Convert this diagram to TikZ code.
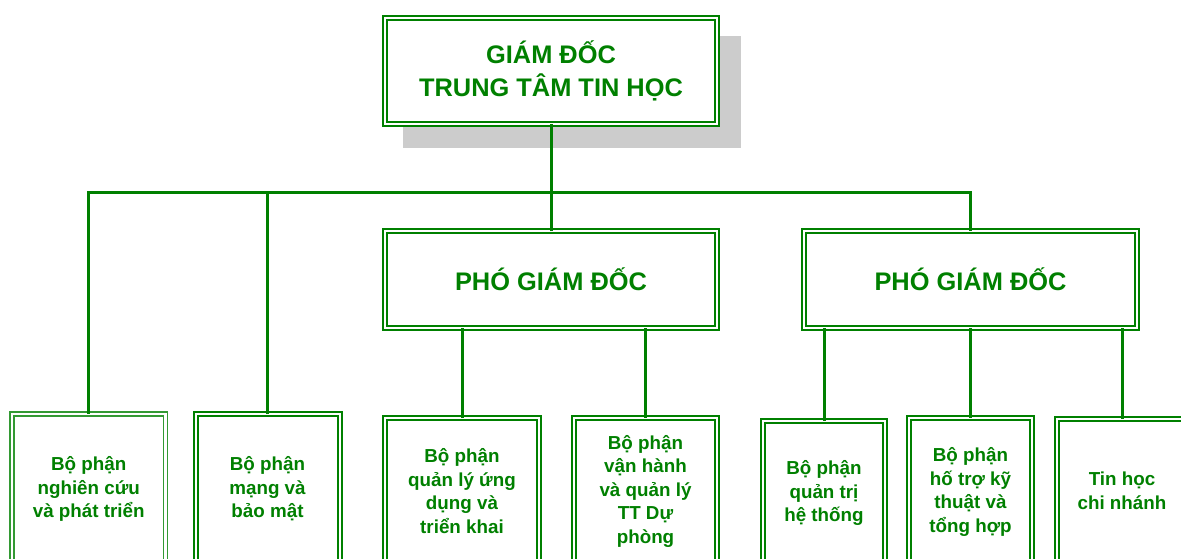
\documentclass[tikz,border=0pt]{standalone}
\usepackage{fontspec}
\setmainfont{Liberation Sans}
\definecolor{dgreen}{HTML}{008000}
\definecolor{shadowgray}{HTML}{CCCCCC}
\begin{document}
\begin{tikzpicture}[x=1pt,y=-1pt,
  frame/.style={draw=dgreen, line width=2pt, double=white, double distance=2pt,
                fill=white, inner sep=0pt, outer sep=0pt},
  thinframe/.style={frame, draw=dgreen!80, line width=1.3pt, double distance=2.7pt},
  head/.style={font=\fontsize{25.4}{33}\selectfont\bfseries, text=dgreen, align=center},
  unit/.style={font=\fontsize{18.8}{23.5}\selectfont\bfseries, text=dgreen, align=center, inner sep=0pt},
  conn/.style={draw=dgreen, line width=3pt}]
\useasboundingbox (0,0) rectangle (1181,559);
\clip (0,0) rectangle (1181,559);

% drop shadow of the director box
\fill[shadowgray] (403.25,36.25) rectangle (740.75,147.75);

% director
\node[frame, head, minimum width=332pt, minimum height=106pt] (dir) at (551,71)
  {GIÁM ĐỐC\\TRUNG TÂM TIN HỌC};

% deputy directors
\node[frame, head, minimum width=332pt, minimum height=97pt] (pgd1) at (551,279.5) {PHÓ GIÁM ĐỐC};
\node[frame, head, minimum width=333pt, minimum height=97pt] (pgd2) at (970.5,279.5) {PHÓ GIÁM ĐỐC};

% departments (frames run past the lower edge)
\node[thinframe, anchor=north, minimum width=153.5pt, minimum height=200pt] (b1) at (88.75,414) {};
\node[frame, anchor=north, minimum width=144pt, minimum height=200pt] (b2) at (267.5,414) {};
\node[frame, anchor=north, minimum width=154pt, minimum height=200pt] (b3) at (462,418) {};
\node[frame, anchor=north, minimum width=143pt, minimum height=200pt] (b4) at (645.5,418) {};
\node[frame, anchor=north, minimum width=122pt, minimum height=200pt] (b5) at (824,421) {};
\node[frame, anchor=north, minimum width=123pt, minimum height=200pt] (b6) at (970.5,418) {};
\node[frame, anchor=north, minimum width=130pt, minimum height=200pt] (b7) at (1122,419) {};

\node[unit] (t1) at (88.75,489) {Bộ phận\\nghiên cứu\\và phát triển};
\node[unit] (t2) at (267.5,489) {Bộ phận\\mạng và\\bảo mật};
\node[unit] (t3) at (462,491) {Bộ phận\\quản lý ứng\\dụng và\\triển khai};
\node[unit] (t4) at (645.5,491) {Bộ phận\\vận hành\\và quản lý\\TT Dự\\phòng};
\node[unit] (t5) at (824,493) {Bộ phận\\quản trị\\hệ thống};
\node[unit] (t6) at (970.5,492) {Bộ phận\\hố trợ kỹ\\thuật và\\tổng hợp};
\node[unit] (t7) at (1122,491) {Tin học\\chi nhánh};

% connectors
\coordinate (busL) at (88.75,192);
\coordinate (busR) at (970.5,192);
\draw[conn] (dir.south) -- (pgd1.north);
\draw[conn] (b1.north) -- (busL) -- (busR) -- (pgd2.north);
\draw[conn] (b2.north) -- (b2.north |- busL);
\draw[conn] (pgd1.south -| b3.north) -- (b3.north);
\draw[conn] (pgd1.south -| b4.north) -- (b4.north);
\draw[conn] (pgd2.south -| b5.north) -- (b5.north);
\draw[conn] (pgd2.south) -- (b6.north);
\draw[conn] (pgd2.south -| b7.north) -- (b7.north);
\end{tikzpicture}
\end{document}
